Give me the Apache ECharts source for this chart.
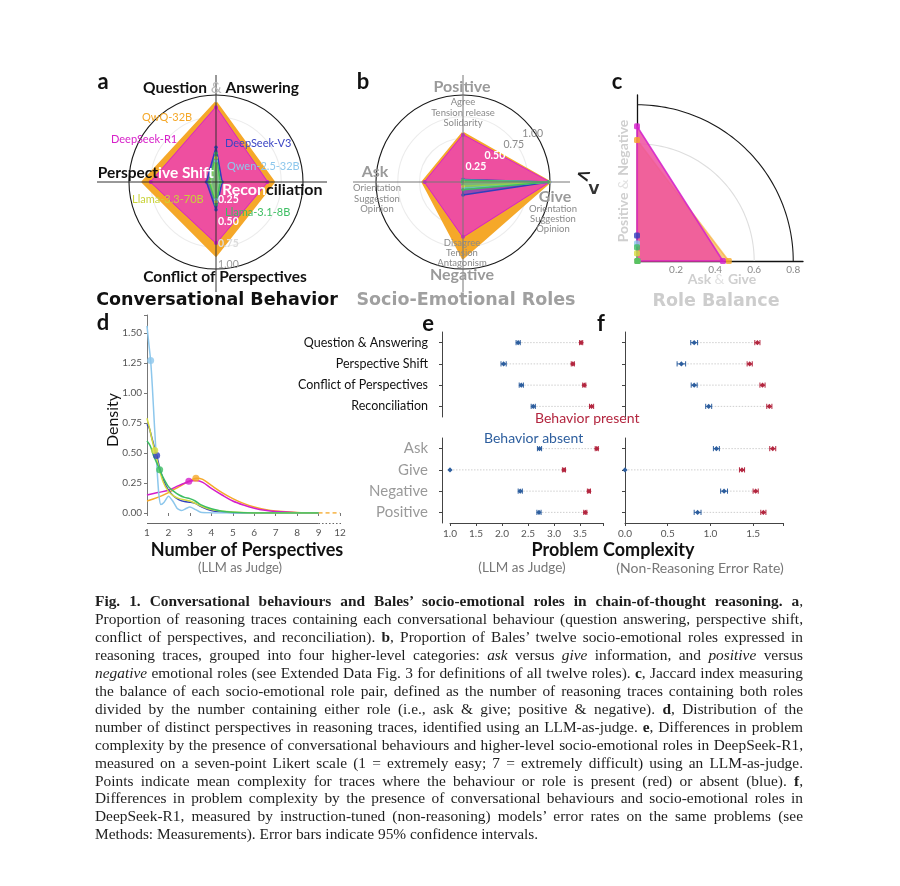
<!DOCTYPE html>
<html><head><meta charset="utf-8">
<script src="https://cdn.jsdelivr.net/npm/echarts@6/dist/echarts.min.js"></script>
<style>
html,body{margin:0;padding:0;background:#fff;}
#chart{position:absolute;left:0;top:0;width:900px;height:886px;}
#caption{position:absolute;left:95px;top:592px;width:708px;font-family:'Liberation Serif','Times New Roman',serif;font-size:15.4px;line-height:17.95px;color:#1e1e1e;}
#caption div{white-space:nowrap;}
</style></head><body>
<div id="chart"></div>
<div id="caption"></div>
<script>
// ---------------- DATA ----------------
const models = ['QwQ-32B','DeepSeek-R1','DeepSeek-V3','Qwen-2.5-32B','Llama-3.3-70B','Llama-3.1-8B'];

// a: conversational behaviours (radar order: top, left, bottom, right)
const behaviorAxes = ['Question & Answering','Perspective Shift','Conflict of Perspectives','Reconciliation'];
const behaviorQwQ  = [0.91, 0.84, 0.84, 0.66];
const behaviorR1   = [0.86, 0.75, 0.70, 0.59];
const behaviorV3   = [0.40, 0.11, 0.32, 0.07];
const behaviorQwen = [0.24, 0.06, 0.20, 0.04];
const behaviorL70  = [0.28, 0.07, 0.23, 0.05];
const behaviorL8   = [0.33, 0.08, 0.26, 0.05];

// b: socio-emotional roles (top, left, bottom, right)
const roleAxes = ['Positive','Ask','Negative','Give'];
const roleQwQ  = [0.56, 0.46, 0.87, 0.99];
const roleR1   = [0.54, 0.44, 0.63, 0.99];
const roleV3   = [0.03, 0.01, 0.15, 0.99];
const roleQwen = [0.02, 0.01, 0.07, 1.00];
const roleL70  = [0.01, 0.01, 0.05, 0.99];
const roleL8   = [0.02, 0.01, 0.09, 0.98];

// c: role balance (Jaccard)
const balanceAskGive = [0.47, 0.44, 0.003, 0.002, 0.002, 0.002];
const balancePosNeg  = [0.62, 0.69, 0.13, 0.09, 0.04, 0.07];
const balanceTicks = ['0.2','0.4','0.6','0.8'];
const ringRadii = [0.6, 0.8];

// d: density of number of perspectives
const densityQwQ = [[1,0.10],[1.5,0.13],[2,0.17],[2.5,0.22],[3,0.27],[3.3,0.29],[3.6,0.28],[4,0.23],[4.5,0.17],[5,0.12],[5.5,0.08],[6,0.05],[6.5,0.03],[7,0.017],[8,0.005],[9,0.001]];
const densityR1  = [[1,0.15],[1.5,0.17],[2,0.19],[2.5,0.23],[3,0.265],[3.3,0.27],[3.6,0.255],[4,0.205],[4.5,0.15],[5,0.10],[5.5,0.066],[6,0.04],[6.5,0.022],[7,0.012],[8,0.003],[9,0.0]];
const densityV3  = [[1,0.74],[1.1,0.71],[1.25,0.61],[1.45,0.48],[1.6,0.37],[1.8,0.26],[2,0.19],[2.25,0.14],[2.5,0.11],[2.75,0.095],[3,0.09],[3.25,0.08],[3.5,0.055],[4,0.02],[4.5,0.008],[5,0.003],[6,0],[7,0],[8,0],[9,0]];
const densityQwen= [[1,1.56],[1.08,1.42],[1.17,1.27],[1.25,1.05],[1.35,0.72],[1.45,0.42],[1.55,0.16],[1.65,0.07],[1.8,0.09],[2,0.14],[2.2,0.10],[2.4,0.04],[2.6,0.02],[2.8,0.035],[3,0.05],[3.2,0.035],[3.5,0.006],[4,0.001],[5,0],[6,0],[7,0],[8,0],[9,0]];
const densityL70 = [[1,0.79],[1.1,0.72],[1.25,0.60],[1.36,0.52],[1.5,0.42],[1.75,0.26],[2,0.18],[2.25,0.14],[2.5,0.12],[3,0.10],[3.5,0.06],[4,0.03],[5,0.008],[6,0.001],[7,0],[8,0],[9,0]];
const densityL8  = [[1,0.60],[1.15,0.56],[1.3,0.48],[1.45,0.42],[1.59,0.36],[1.8,0.28],[2,0.22],[2.25,0.18],[2.5,0.15],[2.75,0.13],[3,0.12],[3.25,0.10],[3.5,0.07],[4,0.035],[4.5,0.015],[5,0.007],[6,0.001],[7,0],[8,0],[9,0]];
const densityMeans = [[3.28,0.29],[2.95,0.265],[1.45,0.48],[1.17,1.27],[1.36,0.52],[1.59,0.36]];
const densityTail = [[9,0],[10,0]]; // 10 on the axis stands for 12 (broken axis)
const densityTicks = ['1','2','3','4','5','6','7','8','9','12'];

// e/f: problem complexity
const behaviorRows = ['Question & Answering','Perspective Shift','Conflict of Perspectives','Reconciliation'];
const roleRows = ['Ask','Give','Negative','Positive'];
const eBehAbsent  = [2.31, 2.03, 2.37, 2.60], eBehAbsentErr  = [0.04, 0.05, 0.04, 0.04];
const eBehPresent = [3.52, 3.36, 3.58, 3.72], eBehPresentErr = [0.03, 0.03, 0.03, 0.04];
const eRoleAbsent  = [2.72, 1.00, 2.35, 2.71], eRoleAbsentErr  = [0.04, 0.0, 0.04, 0.04];
const eRolePresent = [3.82, 3.19, 3.67, 3.60], eRolePresentErr = [0.03, 0.03, 0.03, 0.03];
const fBehAbsent  = [0.81, 0.66, 0.81, 0.98], fBehAbsentErr  = [0.04, 0.05, 0.035, 0.035];
const fBehPresent = [1.55, 1.46, 1.61, 1.69], fBehPresentErr = [0.03, 0.03, 0.03, 0.03];
const fRoleAbsent  = [1.07, 0.00, 1.16, 0.85], fRoleAbsentErr  = [0.035, 0.0, 0.04, 0.04];
const fRolePresent = [1.73, 1.37, 1.53, 1.62], fRolePresentErr = [0.035, 0.03, 0.03, 0.03];

// ---------------- STYLE ----------------
const COL = { qwq:'#F5A829', r1:'#D41FCB', r1fill:'#EE4FA0', v3:'#2F40BE', qwen:'#8DC7EC', l70:'#D6DC3E', l8:'#3DBE63' };
const modelColors = [COL.qwq, COL.r1, COL.v3, COL.qwen, COL.l70, COL.l8];
const RED = '#B3263F', BLUE = '#2D5E9E';
const SANS = 'Lato, "Open Sans", sans-serif';
const HEAVY = 'bold 17.5px "DejaVu Sans", sans-serif';

const chart = echarts.init(document.getElementById('chart'), null, {renderer:'canvas'});

function radarItems(arrs){
  return arrs.map((v,i)=>{
    const c = modelColors[i];
    if (i===0) return {value:v, name:models[i], symbolSize:0, lineStyle:{color:c,width:3}, areaStyle:{color:c,opacity:1}, itemStyle:{color:c}};
    if (i===1) return {value:v, name:models[i], symbolSize:4, lineStyle:{color:c,width:1.5}, areaStyle:{color:COL.r1fill,opacity:1}, itemStyle:{color:c}};
    return {value:v, name:models[i], symbolSize:3.5, lineStyle:{color:c,width:1.5}, areaStyle:{color:c,opacity:0.45}, itemStyle:{color:c}};
  });
}

const radarBase = (center)=>({
  center, radius:87, startAngle:90, shape:'circle', splitNumber:4,
  axisName:{show:false}, axisLine:{show:false}, axisTick:{show:false}, axisLabel:{show:false},
  splitArea:{show:false},
  splitLine:{lineStyle:{color:['#ececec','#ececec','#ececec','#ececec','#1a1a1a'], width:1.1}}
});
const A_C = [216,182], B_C = [463,182], R = 87;

function dumbbell(){
  return function(params, api){
    const idx = api.value(0);
    const a = api.value(1), ae = api.value(2), p = api.value(3), pe = api.value(4);
    const pa = api.coord([a, idx]), pp = api.coord([p, idx]);
    const y = pa[1], h = 2.6, d = 2.6;
    const kids = [{type:'line', shape:{x1:pa[0],y1:y,x2:pp[0],y2:y}, style:{stroke:'#cfcfcf',lineWidth:1,lineDash:[1.5,1.5]}}];
    [[a,ae,BLUE],[p,pe,RED]].forEach(([v,e,c])=>{
      const l = api.coord([v-e, idx])[0], r = api.coord([v+e, idx])[0], x = api.coord([v, idx])[0];
      if (e>0){
        kids.push({type:'line', shape:{x1:l,y1:y,x2:r,y2:y}, style:{stroke:c,lineWidth:1}});
        kids.push({type:'line', shape:{x1:l,y1:y-h,x2:l,y2:y+h}, style:{stroke:c,lineWidth:1}});
        kids.push({type:'line', shape:{x1:r,y1:y-h,x2:r,y2:y+h}, style:{stroke:c,lineWidth:1}});
      }
      kids.push({type:'polygon', shape:{points:[[x,y-d],[x+d,y],[x,y+d],[x-d,y]]}, style:{fill:c}});
    });
    return {type:'group', children:kids};
  };
}
const rowsData = (ab, abE, pr, prE)=> ab.map((v,i)=>[i, v, abE[i], pr[i], prE[i]]);

// ---------------- GRAPHIC TEXT ----------------
const G = [];
function T(x,y,text,o){ o=o||{}; G.push({type:'text', x, y, z:100, rotation:o.rot||0, silent:true,
  style:{text, fill:o.fill||'#111', font:o.font||('13px '+SANS), textAlign:o.align||'center', textVerticalAlign:'middle', rich:o.rich}}); }
function L(x1,y1,x2,y2,o){ o=o||{}; G.push({type:'line', z:o.z||90, silent:true, shape:{x1,y1,x2,y2}, style:{stroke:o.stroke||'#333', lineWidth:o.w||1, lineDash:o.dash}}); }

// panel letters
[['a',103,82],['b',363,82],['c',617,82],['d',103,323],['e',428,324],['f',601,324]].forEach(([t,x,y])=>T(x,y,t,{font:'bold 22px '+SANS}));

// crosshairs
L(97,A_C[1],327,A_C[1],{stroke:'#333'}); L(A_C[0],75,A_C[0],292,{stroke:'#333'});
L(353,B_C[1],570,B_C[1],{stroke:'#777'}); L(B_C[0],75,B_C[0],292,{stroke:'#777'});

const ringLabels = ['0.25','0.50','0.75','1.00'];
const ringVals = [0.25,0.5,0.75,1.0];
const aRingCol = ['#fff','#fff','#dcdcdc','#9a9a9a'];
ringVals.forEach((v,i)=>T(A_C[0]+2, A_C[1]+v*R-4, ringLabels[i], {align:'left', fill:aRingCol[i], font:(i<3?'bold ':'')+'10.5px '+SANS}));
const bRingCol = ['#fff','#fff','#8a8a8a','#8a8a8a'];
ringVals.forEach((v,i)=>T(B_C[0]+v*R*0.87-6, B_C[1]-v*R*0.5-5, ringLabels[i], {fill:bRingCol[i], font:(i<2?'bold ':'')+'10.5px '+SANS}));

const bold = 'bold 15.5px '+SANS;
T(A_C[0]+5,88,'{k|Question }{g|&}{k| Answering}',{rich:{k:{fill:'#111',font:bold},g:{fill:'#bbb',font:'15.5px '+SANS}}});
T(214,173,'{k|Perspect}{w|ive Shift}',{align:'right',rich:{k:{fill:'#111',font:bold},w:{fill:'#fff',font:bold}}});
T(222,190,'{w|Recon}{k|ciliation}',{align:'left',rich:{k:{fill:'#111',font:'bold 16px '+SANS},w:{fill:'#fff',font:'bold 16px '+SANS}}});
T(225,277,'Conflict of Perspectives',{font:'bold 15.5px '+SANS});
T(217,300,'Conversational Behavior',{font:HEAVY, fill:'#111'});

const mlab = [[142,117],[111,139],[225,143],[227,166],[132,199],[225,212]];
const mlabCol = [COL.qwq,'#D722C9','#3A44C4',COL.qwen,'#C9D239',COL.l8];
models.forEach((m,i)=>T(mlab[i][0],mlab[i][1],m,{align:'left',fill:mlabCol[i],font:'11px '+SANS}));

const gB = '#9a9a9a', gS = '#8a8a8a', sub = '9.5px '+SANS;
T(462,87,'Positive',{fill:gB,font:'bold 16px '+SANS});
['Agree','Tension release','Solidarity'].forEach((t,i)=>T(463,102+i*10.5,t,{fill:gS,font:sub}));
T(375,172,'Ask',{fill:gB,font:'bold 16px '+SANS});
['Orientation','Suggestion','Opinion'].forEach((t,i)=>T(377,188+i*10.5,t,{fill:gS,font:sub}));
T(555,197,'Give',{fill:gB,font:'bold 16px '+SANS});
['Orientation','Suggestion','Opinion'].forEach((t,i)=>T(553,209+i*10,t,{fill:gS,font:sub}));
T(462,275,'Negative',{fill:gB,font:'bold 16px '+SANS});
['Disagree','Tension','Antagonism'].forEach((t,i)=>T(462,243+i*10,t,{fill:gS,font:sub}));
T(466,300,'Socio-Emotional Roles',{font:HEAVY, fill:'#a0a0a0'});
// small stray glyph visible right of panel b in the source figure
T(583,176,'<',{font:'bold 18px "DejaVu Sans", sans-serif', fill:'#222', rot:-0.3});
T(594,190,'V',{font:'bold 14px "DejaVu Sans", sans-serif', fill:'#333'});

T(623,181,'{k|Positive }{g|&}{k| Negative}',{rot:Math.PI/2,rich:{k:{fill:'#cfcfcf',font:'bold 14px '+SANS},g:{fill:'#e2e2e2',font:'14px '+SANS}}});
T(722,279,'{k|Ask }{g|&}{k| Give}',{rich:{k:{fill:'#cfcfcf',font:'bold 14px '+SANS},g:{fill:'#e2e2e2',font:'14px '+SANS}}});
T(716,301,'Role Balance',{font:HEAVY, fill:'#cdcdcd'});

T(113,420,'Density',{rot:Math.PI/2,font:'16px '+SANS});
T(247,550,'Number of Perspectives',{font:'bold 18px '+SANS});
T(240,568,'(LLM as Judge)',{fill:'#777',font:'13px '+SANS});
T(613,550,'Problem Complexity',{font:'bold 18px '+SANS});
T(522,568,'(LLM as Judge)',{fill:'#777',font:'13.5px '+SANS});
T(700,568,'(Non-Reasoning Error Rate)',{fill:'#777',font:'14px '+SANS});
T(535,418,'Behavior present',{align:'left',fill:RED,font:'14px '+SANS});
T(484,438,'Behavior absent',{align:'left',fill:BLUE,font:'14px '+SANS});

// ---------------- OPTION ----------------
const gridCommon = {containLabel:false, outerBoundsMode:'none'};
const valLbl = (step)=> (v)=> (Math.abs(v/step-Math.round(v/step))<1e-6 ? v.toFixed(1) : '');
const catY = (gi, data, off, lblStyle)=>({gridIndex:gi, type:'category', data, inverse:true, offset:off,
  axisLine:{show:true,lineStyle:{color:'#444'}}, axisTick:{show:true,alignWithLabel:true,length:3,lineStyle:{color:'#444'}},
  axisLabel:lblStyle, splitLine:{show:false}});

const option = {
  backgroundColor:'#fff',
  animation:false,
  radar:[
    Object.assign(radarBase(A_C), {indicator: behaviorAxes.map(n=>({name:n,min:0,max:1}))}),
    Object.assign(radarBase(B_C), {indicator: roleAxes.map(n=>({name:n,min:0,max:1}))})
  ],
  grid:[
    Object.assign({left:637, top:95, width:166, height:166}, gridCommon),
    Object.assign({left:147, top:315, width:193, height:198}, gridCommon),
    Object.assign({left:450, top:332, width:153, height:85}, gridCommon),
    Object.assign({left:450, top:438, width:153, height:85}, gridCommon),
    Object.assign({left:625, top:332, width:158, height:85}, gridCommon),
    Object.assign({left:625, top:438, width:158, height:85}, gridCommon)
  ],
  xAxis:[
    {gridIndex:0, type:'value', min:0, max:0.85, interval:0.2, axisLine:{show:true,onZero:false,lineStyle:{color:'#111',width:1.3}}, axisTick:{show:false}, splitLine:{show:false},
      axisLabel:{color:'#888', fontSize:10, fontFamily:SANS, margin:4, formatter:(v)=>{const i=Math.round(v/0.2)-1; return (i>=0 && Math.abs(v/0.2-Math.round(v/0.2))<1e-6)? balanceTicks[i]:'';}}},
    {gridIndex:1, type:'value', min:1, max:10, interval:1, offset:10, axisLine:{show:false}, axisTick:{show:true,length:3,lineStyle:{color:'#777'}}, splitLine:{show:false},
      axisLabel:{color:'#555', fontSize:10, fontFamily:SANS, margin:5, formatter:(v)=>densityTicks[Math.round(v)-1]||''}},
    {gridIndex:2, type:'value', min:1, max:3.94, interval:0.5, show:false},
    {gridIndex:3, type:'value', min:1, max:3.94, interval:0.5, axisLine:{show:true,onZero:false,lineStyle:{color:'#444'}}, axisTick:{show:true,length:3}, splitLine:{show:false},
      axisLabel:{color:'#555', fontSize:10, fontFamily:SANS, margin:6, formatter:valLbl(0.5)}},
    {gridIndex:4, type:'value', min:0, max:1.85, interval:0.5, show:false},
    {gridIndex:5, type:'value', min:0, max:1.85, interval:0.5, axisLine:{show:true,onZero:false,lineStyle:{color:'#444'}}, axisTick:{show:true,length:3}, splitLine:{show:false},
      axisLabel:{color:'#555', fontSize:10, fontFamily:SANS, margin:6, formatter:valLbl(0.5)}}
  ],
  yAxis:[
    {gridIndex:0, type:'value', min:0, max:0.85, interval:0.2, axisLine:{show:true,onZero:false,lineStyle:{color:'#111',width:1.3}}, axisTick:{show:false}, axisLabel:{show:false}, splitLine:{show:false}},
    {gridIndex:1, type:'value', min:0, max:1.65, interval:0.25, axisLine:{show:true,lineStyle:{color:'#777'}}, axisTick:{show:true,length:3,lineStyle:{color:'#777'}}, splitLine:{show:false},
      axisLabel:{color:'#555', fontSize:10, fontFamily:SANS, margin:5, formatter:(v)=> (v<=1.5+1e-9 && Math.abs(v/0.25-Math.round(v/0.25))<1e-6) ? v.toFixed(2) : ''}},
    catY(2, behaviorRows, 8, {color:'#111', fontSize:12.5, fontFamily:SANS, margin:14}),
    catY(3, roleRows, 8, {color:'#9a9a9a', fontSize:15, fontFamily:SANS, margin:14}),
    catY(4, behaviorRows, 7, {show:false}),
    catY(5, roleRows, 7, {show:false})
  ],
  series:[
    {type:'radar', radarIndex:0, symbol:'circle', z:2, data: radarItems([behaviorQwQ,behaviorR1,behaviorV3,behaviorQwen,behaviorL70,behaviorL8])},
    {type:'radar', radarIndex:1, symbol:'circle', z:2, data: radarItems([roleQwQ,roleR1,roleV3,roleQwen,roleL70,roleL8])},
    // c rings
    {type:'custom', xAxisIndex:0, yAxisIndex:0, z:1, silent:true, clip:false, data: ringRadii.map(r=>[r,0]),
      renderItem:(params,api)=>{const r=api.value(0); const pts=[]; for(let t=0;t<=90;t+=1.5){const a=t*Math.PI/180; pts.push(api.coord([r*Math.cos(a), r*Math.sin(a)]));}
        return {type:'polyline', shape:{points:pts}, style:{fill:null, stroke: params.dataIndex===ringRadii.length-1?'#1a1a1a':'#dedede', lineWidth:1.1}};}},
    // c triangles
    {type:'custom', xAxisIndex:0, yAxisIndex:0, z:3, silent:true, clip:false, data: models.map((m,i)=>[balanceAskGive[i], balancePosNeg[i]]),
      renderItem:(params,api)=>{const i=params.dataIndex; const o=api.coord([0,0]), p1=api.coord([api.value(0),0]), p2=api.coord([0,api.value(1)]);
        const fill = i===1?COL.r1fill:modelColors[i]; const op = i===0?0.6:(i===1?0.85:0.4);
        return {type:'polygon', shape:{points:[o,p1,p2]}, style:{fill, opacity:op, stroke:modelColors[i], lineWidth:i<2?1.6:1.2}};}},
    ...models.map((m,i)=>({type:'scatter', xAxisIndex:0, yAxisIndex:0, z:4, clip:false, symbol:'roundRect', symbolSize:6, itemStyle:{color:modelColors[i]},
      data:[[balanceAskGive[i],0],[0,balancePosNeg[i]]]})),
    // d densities
    ...[densityQwQ,densityR1,densityV3,densityQwen,densityL70,densityL8].map((d,i)=>({type:'line', xAxisIndex:1, yAxisIndex:1, z:3+(i>1?1:0), data:d, smooth:(i===3?0.2:0.35), showSymbol:false,
      lineStyle:{color:modelColors[i], width:1.5}})),
    {type:'line', xAxisIndex:1, yAxisIndex:1, data:densityTail, showSymbol:false, lineStyle:{color:COL.qwq,width:1.5,type:[4,3]}},
    {type:'scatter', xAxisIndex:1, yAxisIndex:1, z:6, symbolSize:7, data: densityMeans.map((p,i)=>({value:p, itemStyle:{color:modelColors[i]}}))},
    // e / f
    {type:'custom', xAxisIndex:2, yAxisIndex:2, renderItem:dumbbell(), encode:{x:[1,3],y:0}, data: rowsData(eBehAbsent,eBehAbsentErr,eBehPresent,eBehPresentErr)},
    {type:'custom', xAxisIndex:3, yAxisIndex:3, renderItem:dumbbell(), encode:{x:[1,3],y:0}, data: rowsData(eRoleAbsent,eRoleAbsentErr,eRolePresent,eRolePresentErr)},
    {type:'custom', xAxisIndex:4, yAxisIndex:4, renderItem:dumbbell(), encode:{x:[1,3],y:0}, data: rowsData(fBehAbsent,fBehAbsentErr,fBehPresent,fBehPresentErr)},
    {type:'custom', xAxisIndex:5, yAxisIndex:5, renderItem:dumbbell(), encode:{x:[1,3],y:0}, data: rowsData(fRoleAbsent,fRoleAbsentErr,fRolePresent,fRolePresentErr)}
  ],
  graphic: G
};
chart.setOption(option);

// d broken x-axis line (solid to 9, dotted 9 -> 12), positioned through the axis scale
(function(){
  const p1 = chart.convertToPixel({xAxisIndex:1, yAxisIndex:1}, [1,0]);
  const p9 = chart.convertToPixel({xAxisIndex:1, yAxisIndex:1}, [9,0]);
  const p10 = chart.convertToPixel({xAxisIndex:1, yAxisIndex:1}, [10,0]);
  const y = p1[1] + 10.5;
  G.push({type:'line', z:90, silent:true, shape:{x1:p1[0],y1:y,x2:p9[0],y2:y}, style:{stroke:'#666',lineWidth:1}});
  G.push({type:'line', z:90, silent:true, shape:{x1:p9[0],y1:y,x2:p10[0]+1,y2:y}, style:{stroke:'#666',lineWidth:1,lineDash:[1.5,2]}});
  chart.setOption({graphic:G}, {replaceMerge:['graphic']});
})();

// ---------------- CAPTION ----------------
const captionLines = [
 '<b>Fig. 1. Conversational behaviours and Bales’ socio-emotional roles in chain-of-thought reasoning. a</b>,',
 'Proportion of reasoning traces containing each conversational behaviour (question answering, perspective shift,',
 'conflict of perspectives, and reconciliation). <b>b</b>, Proportion of Bales’ twelve socio-emotional roles expressed in',
 'reasoning traces, grouped into four higher-level categories: <i>ask</i> versus <i>give</i> information, and <i>positive</i> versus',
 '<i>negative</i> emotional roles (see Extended Data Fig. 3 for definitions of all twelve roles). <b>c</b>, Jaccard index measuring',
 'the balance of each socio-emotional role pair, defined as the number of reasoning traces containing both roles',
 'divided by the number containing either role (i.e., ask &amp; give; positive &amp; negative). <b>d</b>, Distribution of the',
 'number of distinct perspectives in reasoning traces, identified using an LLM-as-judge. <b>e</b>, Differences in problem',
 'complexity by the presence of conversational behaviours and higher-level socio-emotional roles in DeepSeek-R1,',
 'measured on a seven-point Likert scale (1 = extremely easy; 7 = extremely difficult) using an LLM-as-judge.',
 'Points indicate mean complexity for traces where the behaviour or role is present (red) or absent (blue). <b>f</b>,',
 'Differences in problem complexity by the presence of conversational behaviours and socio-emotional roles in',
 'DeepSeek-R1, measured by instruction-tuned (non-reasoning) models’ error rates on the same problems (see',
 'Methods: Measurements). Error bars indicate 95% confidence intervals.'
];
const cap = document.getElementById('caption');
captionLines.forEach((h,i)=>{
  const d = document.createElement('div'); const s = document.createElement('span'); s.innerHTML = h; d.appendChild(s); cap.appendChild(d);
  if (i < captionLines.length-1){
    const w = s.getBoundingClientRect().width; const n = (s.textContent.match(/ /g)||[]).length;
    if (n) s.style.wordSpacing = ((708 - w)/n) + 'px';
  }
});
</script>
</body></html>
